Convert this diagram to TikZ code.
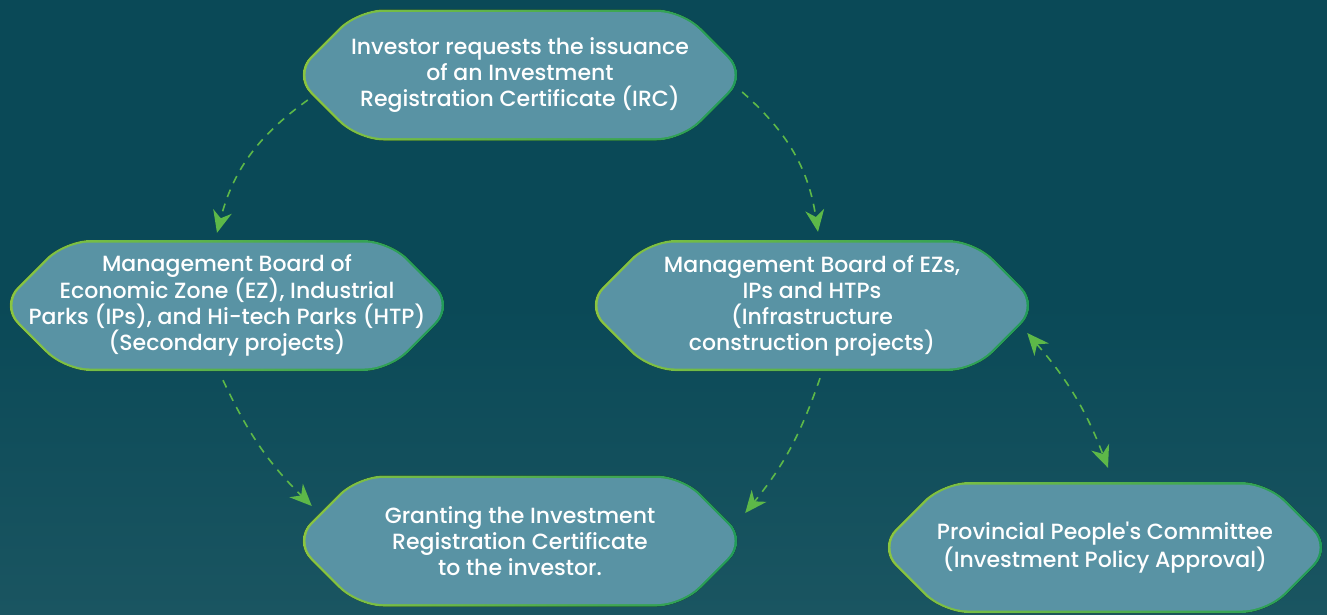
\documentclass[tikz,border=0pt]{standalone}
\usepackage{fontspec}
\newfontfamily\stagefont{Poppins}[UprightFont=* Medium]
\usetikzlibrary{positioning,arrows.meta}

\definecolor{bgtop}{HTML}{0A4957}
\definecolor{bgbottom}{HTML}{1A5561}
\definecolor{stagefill}{HTML}{5993A4}
\definecolor{rimlight}{HTML}{8DC63F}
\definecolor{rimdark}{HTML}{1F9A5A}
\definecolor{flowgreen}{HTML}{5DB848}

\pgfdeclarelayer{hexes}
\pgfsetlayers{hexes,main}

% one stage: name, centre, text
\newcommand{\stagenode}[3]{%
    \node (#1) [stagebox] at (#2) {#3};
    \begin{pgfonlayer}{hexes}
        \begin{scope}[shift={(#1.center)}]
            \fill[left color=rimlight, right color=rimdark, rounded corners=26pt]
                (-228,0) -- (-162.5,65.5) -- (162.5,65.5) -- (228,0)
                -- (162.5,-65.5) -- (-162.5,-65.5) -- cycle;
            \fill[stagefill, rounded corners=24pt]
                (-224.5,0) -- (-161.5,63) -- (161.5,63) -- (224.5,0)
                -- (161.5,-63) -- (-161.5,-63) -- cycle;
        \end{scope}
    \end{pgfonlayer}}

\begin{document}
\begin{tikzpicture}[x=1pt, y=1pt]
        \tikzset{
            stagebox/.style={text=white, align=center, inner sep=0pt,
                minimum width=434pt, minimum height=131pt,
                font=\stagefont\fontsize{22}{26}\selectfont},
            flowtip/.tip={Stealth[length=22pt, width=19pt, inset=7pt, fill=flowgreen]},
            flow/.style={draw=flowgreen, line width=1.6pt, dash pattern=on 8pt off 7pt, -flowtip}
        }

        \useasboundingbox (0,0) rectangle (1327,-614);
        \begin{pgfonlayer}{hexes}
            \fill[bgtop] (0,0) rectangle (1327,-300);
            \fill[top color=bgtop, bottom color=bgbottom] (0,-300) rectangle (1327,-614);
        \end{pgfonlayer}

        \stagenode{irc}{520,-75}{Investor requests the issuance\\of an Investment\\Registration Certificate (IRC)}
        \stagenode{secboard}{227,-305.5}{Management Board of\\Economic Zone (EZ), Industrial\\Parks (IPs), and Hi-tech Parks (HTP)\\(Secondary projects)}
        \stagenode{infboard}{812,-305.5}{Management Board of EZs,\\IPs and HTPs\\(Infrastructure\\construction projects)}
        \stagenode{grant}{520,-541}{Granting the Investment\\Registration Certificate\\to the investor.}
        \stagenode{ppc}{1105,-547.5}{Provincial People's Committee\\(Investment Policy Approval)}

        \draw[flow] ([xshift=5pt, yshift=-25pt]irc.west) to[bend right=20] ([xshift=-10pt, yshift=7pt]secboard.north);
        \draw[flow] ([xshift=5pt, yshift=-17pt]irc.east) to[bend left=20] ([xshift=6pt, yshift=8pt]infboard.north);
        \draw[flow] ([xshift=-4pt, yshift=-9pt]secboard.south) to[bend right=10] ([xshift=9pt, yshift=35pt]grant.west);
        \draw[flow] ([xshift=8pt, yshift=-7pt]infboard.south) to[bend left=10] ([xshift=8pt, yshift=28pt]grant.east);
        \draw[flow, flowtip-flowtip] ([xshift=-2pt, yshift=-27.5pt]infboard.east) to[bend left=10] ([xshift=3pt, yshift=14pt]ppc.north);

    \end{tikzpicture}
\end{document}
